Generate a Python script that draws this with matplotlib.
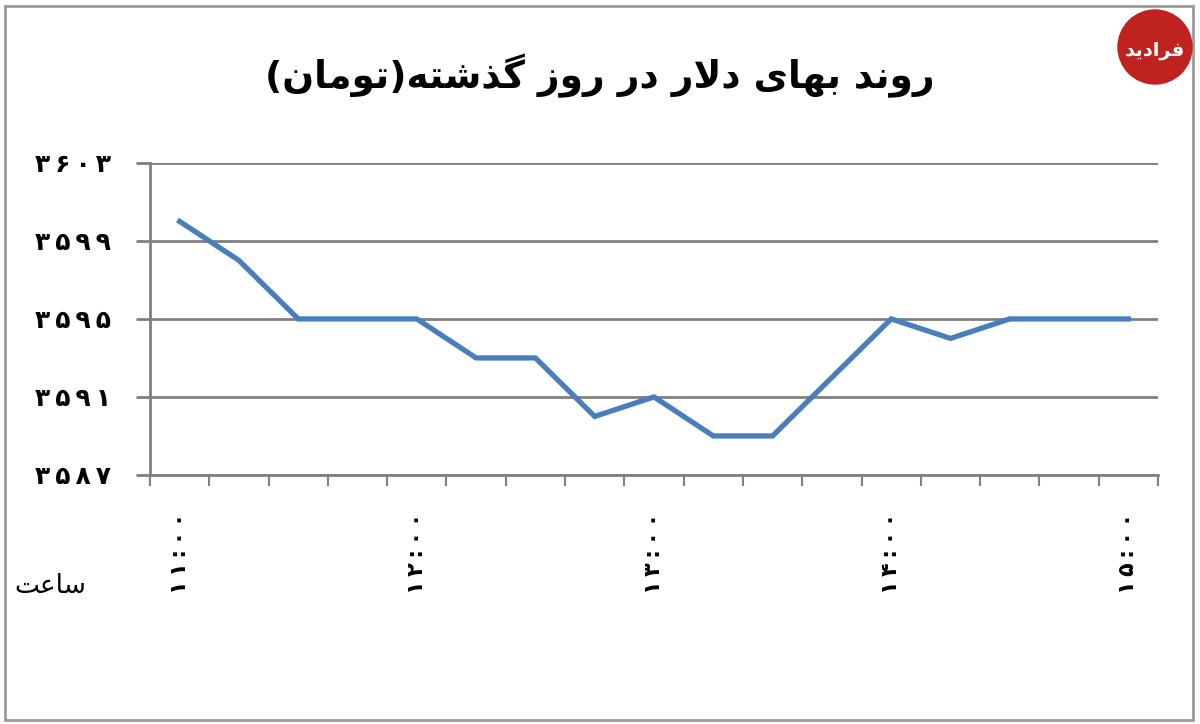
import matplotlib
matplotlib.use("Agg")
import matplotlib.pyplot as plt
from matplotlib.patches import Rectangle, Circle
from matplotlib.transforms import blended_transform_factory

# data: dollar price (toman), every 15 minutes from 11:00 to 15:00
prices = [3600, 3598, 3595, 3595, 3595, 3593, 3593, 3590, 3591,
          3589, 3589, 3592, 3595, 3594, 3595, 3595, 3595]
time_labels = ["۱۱:۰۰", "۱۲:۰۰", "۱۳:۰۰", "۱۴:۰۰", "۱۵:۰۰"]
label_idx = [0, 4, 8, 12, 16]
y_ticks = [3587, 3591, 3595, 3599, 3603]
y_tick_labels = ["۳۵۸۷", "۳۵۹۱", "۳۵۹۵", "۳۵۹۹", "۳۶۰۳"]
title = "روند بهای دلار در روز گذشته(تومان)"
xlabel = "ساعت"

# crude arabic shaping since matplotlib does no RTL / joining
FORMS = {
    'ا': ('\uFE8D', '\uFE8E', None, None),
    'ب': ('\uFE8F', '\uFE90', '\uFE91', '\uFE92'),
    'ت': ('\uFE95', '\uFE96', '\uFE97', '\uFE98'),
    'د': ('\uFEA9', '\uFEAA', None, None),
    'ذ': ('\uFEAB', '\uFEAC', None, None),
    'ر': ('\uFEAD', '\uFEAE', None, None),
    'ز': ('\uFEAF', '\uFEB0', None, None),
    'س': ('\uFEB1', '\uFEB2', '\uFEB3', '\uFEB4'),
    'ش': ('\uFEB5', '\uFEB6', '\uFEB7', '\uFEB8'),
    'ع': ('\uFEC9', '\uFECA', '\uFECB', '\uFECC'),
    'ف': ('\uFED1', '\uFED2', '\uFED3', '\uFED4'),
    'ل': ('\uFEDD', '\uFEDE', '\uFEDF', '\uFEE0'),
    'م': ('\uFEE1', '\uFEE2', '\uFEE3', '\uFEE4'),
    'ن': ('\uFEE5', '\uFEE6', '\uFEE7', '\uFEE8'),
    'ه': ('\uFEE9', '\uFEEA', '\uFEEB', '\uFEEC'),
    'و': ('\uFEED', '\uFEEE', None, None),
    'ی': ('\uFBFC', '\uFBFD', '\uFBFE', '\uFBFF'),
    'گ': ('\uFB92', '\uFB93', '\uFB94', '\uFB95'),
}


def joins_left(c):
    return c in FORMS and FORMS[c][2] is not None


def shape(s):
    out = []
    i = 0
    while i < len(s):
        c = s[i]
        prev = s[i - 1] if i > 0 else ''
        pc = joins_left(prev)
        if c == 'ل' and i + 1 < len(s) and s[i + 1] == 'ا':
            out.append('\uFEFC' if pc else '\uFEFB')
            i += 2
            continue
        if c not in FORMS:
            out.append(c)
            i += 1
            continue
        nxt = s[i + 1] if i + 1 < len(s) else ''
        nc = nxt in FORMS
        iso, fin, ini, med = FORMS[c]
        if pc and nc and med:
            out.append(med)
        elif pc:
            out.append(fin)
        elif nc and ini:
            out.append(ini)
        else:
            out.append(iso)
        i += 1
    swap = {'(': ')', ')': '('}
    return ''.join(swap.get(c, c) for c in reversed(out))


def spaced(s):
    # the original labels have loose letter spacing
    return "\u2009".join(s)


plt.rcParams['font.family'] = ['DejaVu Sans']

fig = plt.figure(figsize=(12, 7.24), dpi=100)
ax = fig.add_axes([0.125, 0.344, 0.84, 0.431])

grey = "#808080"
x = list(range(len(prices)))
ax.plot(x, prices, color="#4A7EBB", lw=3.8, solid_joinstyle="miter", zorder=3)

ax.set_xlim(-0.5, len(prices) - 0.5)
ax.set_ylim(y_ticks[0], y_ticks[-1])
ax.set_yticks(y_ticks)
ax.set_yticklabels([spaced(t) for t in y_tick_labels], fontsize=18,
                   fontweight="bold")
ax.yaxis.grid(True, color=grey, lw=2)
ax.set_xticks([i - 0.5 for i in range(len(prices) + 1)])
ax.set_xticklabels([])
ax.tick_params(axis="y", length=10, width=2, color=grey, pad=18)
ax.tick_params(axis="x", length=8, width=1.5, color=grey)
for s in ["top", "right"]:
    ax.spines[s].set_visible(False)
for s in ["left", "bottom"]:
    ax.spines[s].set_color(grey)
    ax.spines[s].set_linewidth(2)

trans = blended_transform_factory(ax.transData, ax.transAxes)
for i, lab in zip(label_idx, time_labels):
    ax.text(i, -0.12, spaced(lab), transform=trans, rotation=90, ha="center",
            va="top", fontsize=16, fontweight="bold")

fig.text(0.5, 0.895, shape(title), ha="center", va="center",
         fontsize=27, fontweight="bold")
fig.text(0.012, 0.19, shape(xlabel), ha="left", va="center", fontsize=19)

# frame around the picture
fig.patches.append(Rectangle((0.004, 0.006), 0.99, 0.986, transform=fig.transFigure,
                             fill=False, ec="#9a9a9a", lw=2))
# logo
logo = Circle((11.55, 7.24 - 0.47), 0.37, transform=fig.dpi_scale_trans,
              color="#c0221f")
fig.patches.append(logo)
fig.text(1155 / 1200, 1 - 50 / 724, shape("فرادید"), ha="center", va="center",
         color="white", fontsize=14, fontweight="bold")

fig.savefig("out.png", dpi=100)
